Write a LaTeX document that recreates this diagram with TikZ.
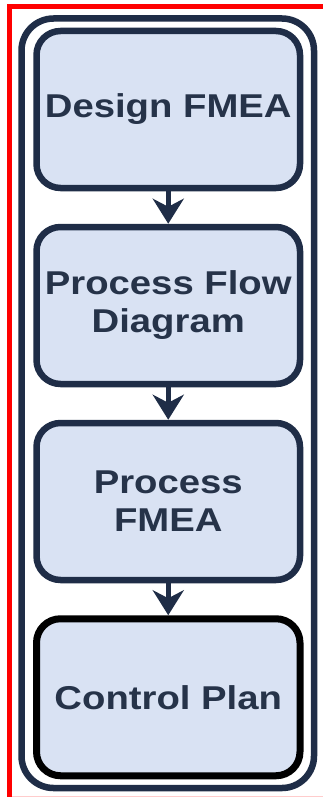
\documentclass[tikz,border=0pt]{standalone}
\usepackage{fontspec}
\setmainfont{Liberation Sans}[FakeStretch=1.16]
\usetikzlibrary{arrows.meta,positioning}
\definecolor{navy}{HTML}{1F2D47}
\definecolor{boxfill}{HTML}{D9E2F3}
\definecolor{txtnavy}{HTML}{263349}

\begin{document}
\begin{tikzpicture}[x=1pt,y=1pt,
  stage/.style={draw=navy, line width=6.5pt, fill=boxfill, rounded corners=24pt,
    minimum width=263.5pt, minimum height=157pt, align=center, text=txtnavy,
    font=\bfseries\fontsize{33}{38}\selectfont},
  flow/.style={draw=navy, line width=5pt, -{Stealth[length=25pt,width=31pt,inset=8pt]}}]
  \useasboundingbox (0,0) rectangle (323,-797);
  % frame
  \draw[red, line width=5pt] (9.5,-797) -- (9.5,-6.5) -- (323,-6.5);
  \draw[red!20, line width=1pt] (12,-796.5) -- (323,-796.5);
  \draw[navy, line width=6.5pt, rounded corners=32pt] (21.5,-18.5) rectangle (314,-788);
  % steps
  \node[stage] (dfmea) at (168.25,-109.5) {Design FMEA};
  \node[stage, below=32.5pt of dfmea] (pfd) {Process Flow\\Diagram};
  \node[stage, below=32.5pt of pfd] (pfmea) {Process\\FMEA};
  \node[stage, draw=black, line width=7pt, below=32pt of pfmea] (cplan) {Control Plan};
  % arrows
  \draw[flow] (dfmea) -- (pfd);
  \draw[flow] (pfd) -- (pfmea);
  \draw[flow] (pfmea) -- (cplan);
\end{tikzpicture}
\end{document}
